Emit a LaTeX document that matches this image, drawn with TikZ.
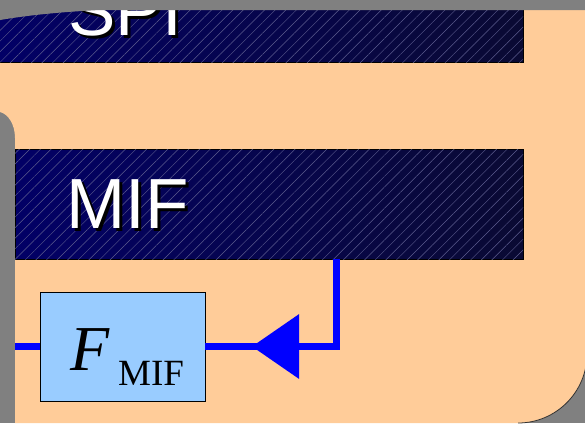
\documentclass[tikz,border=0pt]{standalone}
\usepackage{fontspec}
\setmainfont{Liberation Serif}
\setsansfont{Liberation Sans}
\usetikzlibrary{patterns.meta,arrows.meta}
\definecolor{peach}{HTML}{FFCC99}
\definecolor{slidegray}{HTML}{808080}
\definecolor{navyL}{HTML}{020066}
\definecolor{navyR}{HTML}{0A0A33}
\definecolor{hatch}{HTML}{5C5C8E}
\definecolor{fbox}{HTML}{99CCFF}
\definecolor{flowblue}{HTML}{0000FF}
\begin{document}
\begin{tikzpicture}[x=1pt,y=-1pt,
  navybox/.style={draw=black, line width=0.7pt, left color=navyL, right color=navyR},
  hatchbox/.style={pattern={Lines[angle=45,distance=7.5pt,line width=0.45pt]}, pattern color=hatch},
  titletext/.style={font=\sffamily\fontsize{71}{71}\selectfont, anchor=base west, inner sep=0pt},
  filterbox/.style={draw=black, line width=0.6pt, fill=fbox},
  flow/.style={draw=flowblue, line width=7pt},
]
\useasboundingbox (0,0) rectangle (585,423);
\clip (0,0) rectangle (585,423);
% background
\fill[slidegray] (0,0) rectangle (585,423);
% peach panel
\fill[peach] (0,20) -- (100,10) -- (587,10) -- (587,354)
  .. controls (587,392) and (556,423) .. (518,423)
  -- (15,423) -- (15,138) .. controls (15,124) and (8,114) .. (0,112) -- cycle;
\draw[black!80, line width=0.8pt] (587,354) .. controls (587,392) and (556,423) .. (518,423);
% SPI bar
\path[navybox] (-2,-5) rectangle (523,62);
\path[hatchbox] (-2,-5) rectangle (523,62);
\node[titletext, text=black] (spishadow) at (71,38) {SPI};
\node[titletext, text=white] (spi) at (68,35) {SPI};
% top gray band
\fill[slidegray] (0,0) -- (585,0) -- (585,10) -- (100,10) .. controls (60,12) and (30,15) .. (0,20) -- cycle;
% MIF bar
\path[navybox] (15,149) rectangle (523,259);
\path[hatchbox] (15,149) rectangle (523,259);
\coordinate (mifbar) at (336,259);
\node[titletext, text=black] (mifshadow) at (69,231) {MIF};
\node[titletext, text=white] (mif) at (66,228) {MIF};
% filter box
\node[filterbox, minimum width=165pt, minimum height=109pt, inner sep=0pt] (F) at (122.5,346.5) {};
\node[anchor=base west, inner sep=0pt, font=\itshape\fontsize{64}{64}\selectfont] (Fl) at (70,370) {F};
\node[anchor=base west, inner sep=0pt, font=\fontsize{37}{37}\selectfont] (Fs) at (118,385) {MIF};
% connectors
\coordinate (leftin) at (15,346.5);
\coordinate (corner) at (336,346.5);
\coordinate (tip) at (252,346.5);
\draw[flow] (leftin) -- (F.west);
\draw[flow] (mifbar) -- (corner) -- (F.east);
\draw[flow, -{Triangle[length=47pt,width=63pt]}] (corner) -- (tip);
\end{tikzpicture}
\end{document}
